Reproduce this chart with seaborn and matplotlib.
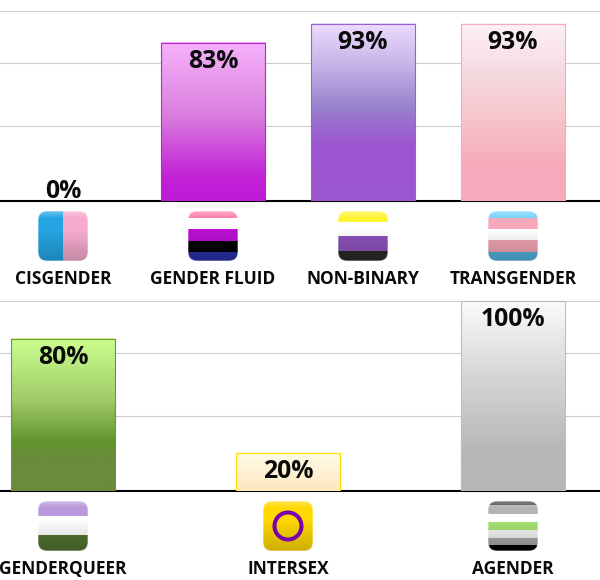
import numpy as np
import pandas as pd
import matplotlib
matplotlib.use("Agg")
import matplotlib.pyplot as plt
from matplotlib.colors import to_rgb, LinearSegmentedColormap
from matplotlib.patches import FancyBboxPatch, Circle
import seaborn as sns

sns.set_theme(style="white")
plt.rcParams['font.family'] = ['Open Sans', 'DejaVu Sans']

top_categories = ["CISGENDER", "GENDER FLUID", "NON-BINARY", "TRANSGENDER"]
top_values = [0, 83, 93, 93]
bottom_categories = ["GENDERQUEER", "INTERSEX", "AGENDER"]
bottom_values = [80, 20, 100]
grid_values = [39.2, 72.4, 100]

edges = {
    "CISGENDER": "none", "GENDER FLUID": "#b824c8", "NON-BINARY": "#9c5fd0",
    "TRANSGENDER": "#f7a9bf", "GENDERQUEER": "#6f9438", "INTERSEX": "#ffdb00",
    "AGENDER": "#bdbdbd",
}
gradients = {
    "CISGENDER": [(0, "#ffffff"), (1, "#ffffff")],
    "GENDER FLUID": [(0, "#f6b2fc"), (.45, "#da80de"), (.85, "#c222d6"), (1, "#be19d5")],
    "NON-BINARY": [(0, "#eedcff"), (.25, "#c5b0e6"), (.48, "#9880cc"), (.68, "#9c55d0"), (1, "#9c58d0")],
    "TRANSGENDER": [(0, "#fdf1f6"), (.3, "#f6d8df"), (.6, "#f6bfc6"), (.8, "#f8a9bc"), (1, "#f8a9bc")],
    "GENDERQUEER": [(0, "#ccff90"), (.4, "#a0cc68"), (.68, "#62932f"), (.78, "#6a8b3a"), (1, "#6a8b3a")],
    "INTERSEX": [(0, "#fffce8"), (1, "#fde7bf")],
    "AGENDER": [(0, "#fbfbfb"), (.4, "#d6d6d6"), (.8, "#b6b6b6"), (1, "#b6b6b6")],
}
# flag stripes: (share of the icon height, colour)
flags = {
    "GENDER FLUID": [(7, "#ff7fa6"), (11, "#ffffff"), (12, "#bb10d2"), (11, "#000000"), (9, "#2a30a8")],
    "NON-BINARY": [(11, "#fff433"), (14, "#ffffff"), (15, "#8e52bb"), (10, "#2a2a2a")],
    "TRANSGENDER": [(7, "#72d2f8"), (11, "#f7a9bb"), (11, "#ffffff"), (12, "#f0a4b4"), (9, "#52b0da")],
    "GENDERQUEER": [(15, "#b899dd"), (19, "#ffffff"), (16, "#507530")],
    "INTERSEX": [(50, "#ffd900")],
    "AGENDER": [(4, "#4c4c4c"), (9, "#b4b4b4"), (8, "#ffffff"), (8, "#a6e272"), (8, "#f4f4f4"), (7, "#a8a8a8"), (6, "#000000")],
}
cis_colours = ["#25a6e2", "#f6abcd"]
ring_colour = "#7a00b0"

PX_PER_PCT = 1.905
fig = plt.figure(figsize=(6, 5.8), dpi=100, facecolor="white")


def panel(top_px, bottom_px, cats, vals, step_px, first_px=63, bar_px=104.5):
    ax = fig.add_axes([0, 1 - bottom_px / 580, 1, (bottom_px - top_px) / 580])
    df = pd.DataFrame({"cat": cats, "val": vals})
    sns.barplot(data=df, x="cat", y="val", hue="cat", palette=["#ffffff"] * len(cats),
                width=bar_px / step_px, saturation=1, legend=False, ax=ax, zorder=3)
    ax.set_xlim(-first_px / step_px, (600 - first_px) / step_px)
    ymax = (bottom_px - top_px) / PX_PER_PCT
    ax.set_ylim(0, ymax)
    for c, v, bar in zip(cats, vals, ax.patches):
        bar.set_edgecolor(edges[c])
        bar.set_linewidth(0.8)
        bar.set_facecolor("none")
        bar.set_zorder(4)
        if v > 0:
            cmap = LinearSegmentedColormap.from_list(c, gradients[c])
            x0, w = bar.get_x(), bar.get_width()
            ax.imshow(np.linspace(0, 1, 256)[:, None], cmap=cmap, vmin=0, vmax=1,
                      extent=[x0, x0 + w, 0, v], aspect="auto", zorder=3, origin="upper")
    ax.set_xlim(-first_px / step_px, (600 - first_px) / step_px)
    ax.set_ylim(0, ymax)
    ax.set_yticks(grid_values)
    ax.set_yticklabels([])
    ax.yaxis.grid(True, color="#cccccc", lw=0.8, zorder=0)
    ax.xaxis.grid(False)
    ax.set_axisbelow(True)
    ax.set_xlabel("")
    ax.set_ylabel("")
    for s in ["top", "left", "right"]:
        ax.spines[s].set_visible(False)
    ax.spines["bottom"].set_color("black")
    ax.spines["bottom"].set_linewidth(1.5)
    ax.tick_params(axis="both", length=0)
    ax.tick_params(axis="x", pad=49.8)
    ax.set_xticks(range(len(cats)))
    ax.set_xticklabels(cats, fontsize=12.5, fontweight="bold", color="#0a0a0a")
    for i, v in enumerate(vals):
        if v > 0:
            ax.annotate(f"{v}%", (i, v), xytext=(0, -13.6), textcoords="offset points",
                        ha="center", va="center", fontsize=17.8, fontweight="bold",
                        color="#0a0a0a", zorder=6)
        else:
            ax.annotate(f"{v}%", (i, v), xytext=(0, 6.8), textcoords="offset points",
                        ha="center", va="center", fontsize=17.8, fontweight="bold",
                        color="#0a0a0a", zorder=6)
    return ax


ax_top = panel(0, 201, top_categories, top_values, 150)
ax_bot = panel(300, 491, bottom_categories, bottom_values, 225)

overlay = fig.add_axes([0, 0, 1, 1], facecolor="none")
overlay.set_xlim(0, 600)
overlay.set_ylim(580, 0)
overlay.axis("off")


def icon(name, cx, top):
    size = 50
    img = np.ones((size, size, 3))
    if name == "CISGENDER":
        img[:, :size // 2] = to_rgb(cis_colours[0])
        img[:, size // 2:] = to_rgb(cis_colours[1])
    else:
        row = 0
        for h, col in flags[name]:
            img[row:row + h] = to_rgb(col)
            row += h
    shade = np.interp(np.arange(size), [0, 18, 50], [1.0, 1.0, 0.8])[:, None, None]
    img = img * shade
    gloss = np.interp(np.arange(size), [0, 5, 6], [0.3, 0.08, 0])[:, None, None]
    img = img + (1 - img) * gloss
    x0 = cx - size / 2
    box = FancyBboxPatch((x0 + 9, top + 9), size - 18, size - 18,
                         boxstyle="round,pad=9,rounding_size=9",
                         fc="none", ec="white", lw=0.8, alpha=0.55, zorder=5)
    overlay.add_patch(box)
    im = overlay.imshow(img, extent=[x0, x0 + size, top + size, top], zorder=4,
                        aspect="auto", interpolation="bilinear")
    im.set_clip_path(box)
    if name == "INTERSEX":
        overlay.add_patch(Circle((cx, top + 25), 13.5, fc="none", ec=ring_colour, lw=2.9, zorder=6))


for ax, cats in [(ax_top, top_categories), (ax_bot, bottom_categories)]:
    for i, c in enumerate(cats):
        px, py = ax.transData.transform((i, 0))
        icon(c, px, 580 - py + 10)
overlay.set_xlim(0, 600)
overlay.set_ylim(580, 0)

fig.savefig("out.png", dpi=100, facecolor="white")
